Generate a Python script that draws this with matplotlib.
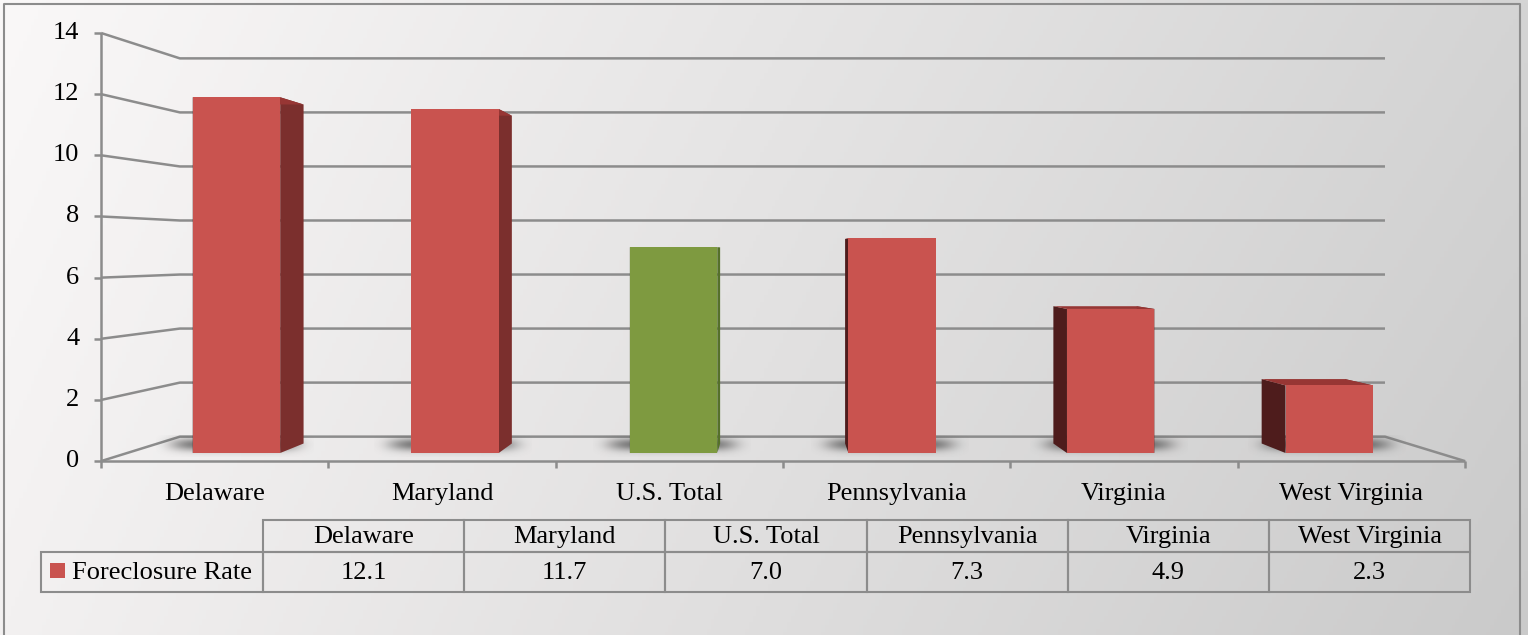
import numpy as np
import matplotlib
matplotlib.use('Agg')
import matplotlib.pyplot as plt
from matplotlib.patches import Rectangle

categories = ['Delaware', 'Maryland', 'U.S. Total', 'Pennsylvania', 'Virginia', 'West Virginia']
rates = [12.1, 11.7, 7.0, 7.3, 4.9, 2.3]
rate_labels = ['12.1', '11.7', '7.0', '7.3', '4.9', '2.3']
series_name = 'Foreclosure Rate'
y_ticks = [0, 2, 4, 6, 8, 10, 12, 14]

RED = '#C9534F'
RED_SIDE_R = '#7B2F2D'
RED_SIDE_L = '#4E1C1C'
RED_TOP = '#973634'
GREEN = '#7E9A40'
GREEN_SIDE_R = '#55702A'
GREEN_SIDE_L = '#3E521E'
GREEN_TOP = '#62782F'
GRID = '#8C8C8C'
FONT = ['Liberation Serif', 'DejaVu Serif']
FS = 19

W, H = 1528, 635
fig = plt.figure(figsize=(W / 100, H / 100), dpi=100)

# background gradient (light top-left to grey bottom-right)
bg = fig.add_axes([0, 0, 1, 1])
tx = np.linspace(0, 1, 400)[None, :]
ty = np.linspace(0, 1, 200)[:, None]
c = 248 - 36 * tx - 7 * ty - 3 * tx * ty
img = np.dstack([c + 2 * (1 - tx), c, c]) / 255.0
bg.imshow(np.clip(img, 0, 1), extent=[0, W, H, 0], aspect='auto')
bg.set_xlim(0, W)
bg.set_ylim(H, 0)
bg.axis('off')
# frame: left, top, right (bottom edge is cut off in the original)
bg.plot([4, 4, W - 8, W - 8], [H + 5, 4, 4, H + 5], color=GRID, lw=1.5)

# bar plane axes: perspective for walls is done by scaling around the vanishing point
ax = fig.add_axes([127.2 / W, 1 - 453 / H, 1311.3 / W, 411.6 / H])
ax.set_xlim(-0.5, len(categories) - 0.5)
ax.set_ylim(0, 14)
ax.axis('off')
ax.patch.set_alpha(0)

XV, YV = 2.477, 6.87
K_FRONT, K_BACK, K_BARBACK = 1.04, 0.919, 0.953


def proj(x, y, k):
    x = np.asarray(x, float)
    y = np.asarray(y, float)
    return XV + k * (x - XV), YV + k * (y - YV)


x0, x1 = -0.5, len(categories) - 0.5
line_kw = dict(color=GRID, lw=1.8, clip_on=False, solid_capstyle='butt', zorder=1)

for v in y_ticks:
    fx, fy = proj(x0, v, K_FRONT)
    bx, by = proj([x0, x1], [v, v], K_BACK)
    xs = [float(fx)] + list(bx)
    ys = [float(fy)] + list(by)
    if v == 0:
        rx, ry = proj(x1, 0, K_FRONT)
        xs.append(float(rx))
        ys.append(float(ry))
    ax.plot(xs, ys, **line_kw)
    # tick mark + label
    ax.plot([fx - 0.034, fx], [fy, fy], **line_kw)
    ax.text(fx - 0.1, fy, str(v), ha='right', va='center', fontsize=FS,
            family=FONT, color='black')

# front axes lines
ax.plot(*proj([x0, x0], [0, 14], K_FRONT), **line_kw)
ax.plot(*proj([x0, x1], [0, 0], K_FRONT), **line_kw)
for i in range(len(categories) + 1):
    tx_, ty_ = proj(i - 0.5, 0, K_FRONT)
    ax.plot([tx_, tx_], [ty_, ty_ - 0.22], **line_kw)

# category labels
for i, name in enumerate(categories):
    lx, _ = proj(i, 0, K_FRONT)
    ax.text(lx, -1.4, name, ha='center', va='center', fontsize=FS, family=FONT)

# soft shadows under bars
hw = 0.2
gx = np.linspace(-1, 1, 160)[None, :]
gy = np.linspace(-1, 1, 50)[:, None]
alpha = np.exp(-(np.abs(gx) / 0.8) ** 6) * np.exp(-((gy + 0.15) / 0.6) ** 2) * 0.75
shadow = np.zeros((50, 160, 4))
shadow[..., :3] = 0.3
shadow[..., 3] = alpha
for i in range(len(categories)):
    ax.imshow(shadow, extent=[i - hw - 0.17, i + hw + 0.15, -0.12, 0.6],
              aspect='auto', zorder=2, clip_on=False, interpolation='bilinear')

# bars
colors = [GREEN if n == 'U.S. Total' else RED for n in categories]
for i, v in enumerate(rates):
    green = categories[i] == 'U.S. Total'
    xl, xr = i - hw, i + hw
    bxl, byb = proj(xl, 0, K_BARBACK)
    bxr, byt = proj(xr, v, K_BARBACK)
    # left side face
    ax.fill([xl, bxl, bxl, xl], [0, byb, byt, v],
            color=GREEN_SIDE_L if green else RED_SIDE_L, zorder=3, lw=0)
    # right side face
    ax.fill([xr, bxr, bxr, xr], [0, byb, byt, v],
            color=GREEN_SIDE_R if green else RED_SIDE_R, zorder=3, lw=0)
    # top face
    ax.fill([xl, xr, bxr, bxl], [v, v, byt, byt],
            color=GREEN_TOP if green else RED_TOP, zorder=3, lw=0)

ax.bar(range(len(categories)), rates, width=2 * hw, color=colors, zorder=4, lw=0)

# data table (pixel frame)
tab = fig.add_axes([0, 0, 1, 1])
tab.set_xlim(0, W)
tab.set_ylim(H, 0)
tab.axis('off')
tab.patch.set_alpha(0)

T_LEFT, COL_W, KEY_LEFT = 263, 201.2, 41
R0, R1, R2 = 520, 552, 592
cell_kw = dict(fill=False, ec=GRID, lw=1.5)
tab.add_patch(Rectangle((KEY_LEFT, R1), T_LEFT - KEY_LEFT, R2 - R1, **cell_kw))
for j, name in enumerate(categories):
    cx = T_LEFT + j * COL_W
    tab.add_patch(Rectangle((cx, R0), COL_W, R1 - R0, **cell_kw))
    tab.add_patch(Rectangle((cx, R1), COL_W, R2 - R1, **cell_kw))
    tab.text(cx + COL_W / 2, (R0 + R1) / 2 + 1, name, ha='center', va='center',
             fontsize=FS, family=FONT)
    tab.text(cx + COL_W / 2, (R1 + R2) / 2 + 1, rate_labels[j], ha='center',
             va='center', fontsize=FS, family=FONT)
tab.add_patch(Rectangle((50, 563), 15, 15, color=RED, lw=0))
tab.text(72, (R1 + R2) / 2 + 1, series_name, ha='left', va='center',
         fontsize=FS, family=FONT)

fig.savefig('out.png', dpi=100)
